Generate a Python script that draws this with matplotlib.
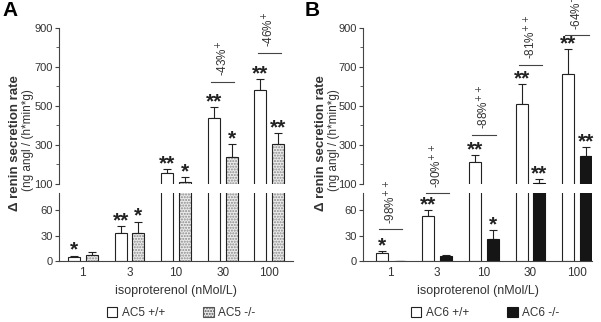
# Recrea la figura de secreción de renina (paneles A y B) con eje Y partido.
import matplotlib.pyplot as plt
from matplotlib.patches import Patch

plt.rcParams['font.family'] = ['Liberation Sans', 'DejaVu Sans']

# --- DATOS ---
concentraciones = ['1', '3', '10', '30', '100']

# Panel A: AC5
ac5_wt = [5, 33, 155, 440, 582]
ac5_wt_sem = [2, 8.5, 20, 56, 55]
ac5_ko = [7.5, 33, 109, 237, 303]
ac5_ko_sem = [4, 14, 28, 66, 58]
ac5_wt_stars = ['*', '**', '**', '**', '**']
ac5_ko_stars = ['', '*', '*', '*', '**']
ac5_diff = ['', '', '', '-43%', '-46%']
ac5_diff_sig = ['', '', '', '+', '+']
ac5_diff_y = [None, None, None, 625, 773]

# Panel B: AC6
ac6_wt = [10, 53, 211, 509, 662]
ac6_wt_sem = [2, 7, 36, 102, 130]
ac6_ko = [0.5, 6, 26, 103, 245]
ac6_ko_sem = [0.3, 2, 11, 23, 45]
ac6_wt_stars = ['*', '**', '**', '**', '**']
ac6_ko_stars = ['', '', '*', '**', '**']
ac6_diff = ['-98%', '-90%', '-88%', '-81%', '-64%']
ac6_diff_sig = ['++', '++', '++', '++', '+']
ac6_diff_y = [38, 80, 351, 710, 862]

GRIS = '#333333'
CORTE = 80  # limite superior del tramo bajo


def dibujar_panel(ax_up, ax_lo, wt, wt_sem, ko, ko_sem, wt_stars, ko_stars,
                  diff, diff_sig, diff_y, estilo_ko, xlim):
    x = list(range(len(concentraciones)))
    off = 0.19
    ancho = 0.257
    xw = [i - off for i in x]
    xk = [i + off for i in x]

    for ax in (ax_up, ax_lo):
        ax.bar(xw, wt, width=ancho, facecolor='white', edgecolor='#222222',
               linewidth=0.8, zorder=2)
        if estilo_ko == 'puntos':
            ax.bar(xk, ko, width=ancho, facecolor='#ececec', edgecolor='#8a8a8a',
                   linewidth=0, hatch='......', zorder=2)
            ax.bar(xk, ko, width=ancho, facecolor='none', edgecolor='#222222',
                   linewidth=0.8, zorder=3)
        else:
            ax.bar(xk, ko, width=ancho, facecolor='#151515', edgecolor='#151515',
                   linewidth=0.8, zorder=2)
        ax.errorbar(xw, wt, yerr=[[0] * len(wt), wt_sem], fmt='none',
                    ecolor='#222222', elinewidth=0.8, capsize=3, capthick=0.8, zorder=1)
        ax.errorbar(xk, ko, yerr=[[0] * len(ko), ko_sem], fmt='none',
                    ecolor='#222222', elinewidth=0.8, capsize=3, capthick=0.8, zorder=1)
        ax.set_xlim(*xlim)
        for s in ('top', 'right'):
            ax.spines[s].set_visible(False)
        ax.spines['left'].set_color('#444444')
        ax.spines['bottom'].set_color('#444444')
        ax.spines['left'].set_linewidth(0.8)
        ax.spines['bottom'].set_linewidth(0.8)
        ax.tick_params(axis='y', labelsize=8, labelcolor=GRIS, color='#444444',
                       length=3, width=0.8, pad=1.5)

    # Tramo superior
    ax_up.set_ylim(100, 900)
    ax_up.set_yticks([100, 300, 500, 700, 900])
    ax_up.set_yticks([200, 400, 600, 800], minor=True)
    ax_up.tick_params(axis='y', which='minor', length=2, color='#444444')
    ax_up.spines['bottom'].set_visible(False)
    ax_up.set_xticks([])

    # Tramo inferior
    ax_lo.set_ylim(0, CORTE)
    ax_lo.set_yticks([0, 30, 60])
    ax_lo.set_xticks(x)
    ax_lo.set_xticklabels(concentraciones)
    ax_lo.tick_params(axis='x', length=0, labelsize=8.5, labelcolor=GRIS, pad=4)
    ax_lo.set_xlabel('isoproterenol (nMol/L)', fontsize=9, color=GRIS, labelpad=4)

    # Asteriscos sobre las barras de error
    for xs, vals, sems, stars in ((xw, wt, wt_sem, wt_stars), (xk, ko, ko_sem, ko_stars)):
        for xi, v, e, st in zip(xs, vals, sems, stars):
            if not st:
                continue
            tope = v + e
            ax = ax_up if tope > 90 else ax_lo
            ax.annotate(st, (xi, tope), xytext=(0, -3), textcoords='offset points',
                        ha='center', va='bottom', fontsize=15, fontweight='bold',
                        color='#222222', annotation_clip=False)

    # Diferencias porcentuales con linea
    for i, (txt, sig, yy) in enumerate(zip(diff, diff_sig, diff_y)):
        if not txt:
            continue
        ax = ax_up if yy > 90 else ax_lo
        ax.plot([i - 0.25, i + 0.25], [yy, yy], color='#444444', lw=0.8,
                clip_on=False, zorder=4)
        ax.annotate(txt + '$^{' + sig + '}$', (i, yy), xytext=(0, 4),
                    textcoords='offset points', rotation=90, ha='center', va='bottom',
                    fontsize=8.5, color=GRIS, annotation_clip=False)


fig = plt.figure(figsize=(6.01, 3.22), dpi=100)

# Posiciones de los ejes (fracciones de la figura)
up_b, up_h = 0.4286, 0.4845
lo_b, lo_h = 0.1879, 0.2112

axA_up = fig.add_axes([0.0982, up_b, 0.3894, up_h])
axA_lo = fig.add_axes([0.0982, lo_b, 0.3894, lo_h])
axB_up = fig.add_axes([0.604, up_b, 0.381, up_h])
axB_lo = fig.add_axes([0.604, lo_b, 0.381, lo_h])

dibujar_panel(axA_up, axA_lo, ac5_wt, ac5_wt_sem, ac5_ko, ac5_ko_sem,
              ac5_wt_stars, ac5_ko_stars, ac5_diff, ac5_diff_sig, ac5_diff_y,
              'puntos', (-0.51, 4.51))
dibujar_panel(axB_up, axB_lo, ac6_wt, ac6_wt_sem, ac6_ko, ac6_ko_sem,
              ac6_wt_stars, ac6_ko_stars, ac6_diff, ac6_diff_sig, ac6_diff_y,
              'negro', (-0.594, 4.32))

# Etiquetas del eje Y
for x0, x1 in ((15 / 601, 28 / 601), (321 / 601, 334 / 601)):
    fig.text(x0, 1 - 143 / 322, 'Δ renin secretion rate', rotation=90,
             ha='center', va='center', fontsize=9.5, fontweight='bold', color=GRIS)
    fig.text(x1, 1 - 140 / 322, '(ng angl / (h*min*g)', rotation=90,
             ha='center', va='center', fontsize=8.5, color=GRIS)

# Letras de panel
fig.text(2 / 601, 1 - 1 / 322, 'A', fontsize=15, fontweight='bold', ha='left', va='top')
fig.text(305 / 601, 1 - 1 / 322, 'B', fontsize=15, fontweight='bold', ha='left', va='top')

# Leyendas
h_wt = Patch(facecolor='white', edgecolor='#222222', linewidth=0.8)
h_ac5 = Patch(facecolor='#ececec', edgecolor='#555555', hatch='......', linewidth=0.8)
h_ac6 = Patch(facecolor='#151515', edgecolor='#151515', linewidth=0.8)
for handles, labels, cx in (([h_wt, h_ac5], ['AC5 +/+', 'AC5 -/-'], 181 / 601),
                            ([h_wt, h_ac6], ['AC6 +/+', 'AC6 -/-'], 485 / 601)):
    leg = fig.legend(handles, labels, loc='center', bbox_to_anchor=(cx, 1 - 313 / 322),
                     ncol=2, frameon=False, fontsize=8.5, handlelength=0.9,
                     handleheight=0.9, handletextpad=0.4, columnspacing=3.2,
                     borderpad=0)
    for t in leg.get_texts():
        t.set_color(GRIS)

fig.savefig('out.png', dpi=100)
